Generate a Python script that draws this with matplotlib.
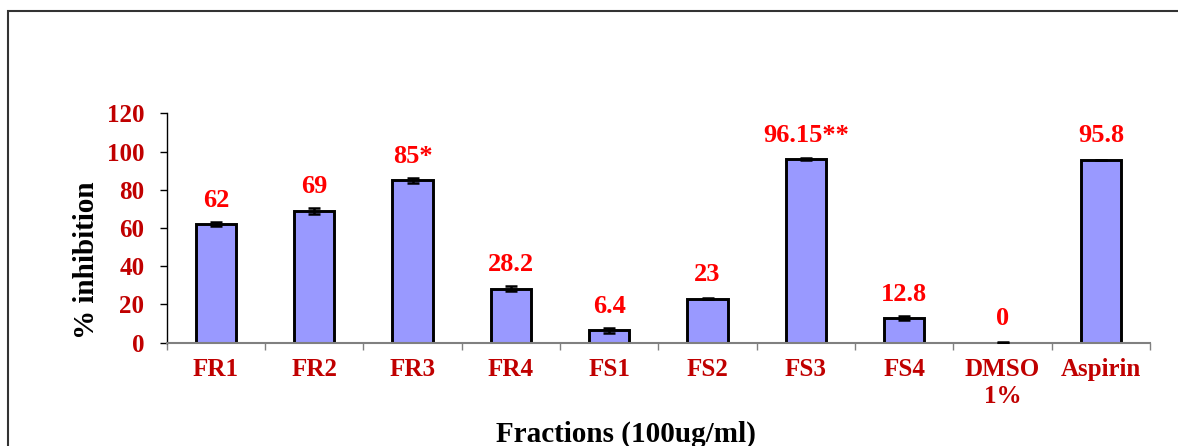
import matplotlib.pyplot as plt
from matplotlib.patches import Rectangle

categories = ['FR1', 'FR2', 'FR3', 'FR4', 'FS1', 'FS2', 'FS3', 'FS4', 'DMSO\n1%', 'Aspirin']
values = [62, 69, 85, 28.2, 6.4, 23, 96.15, 12.8, 0, 95.8]
errors = [1.2, 1.6, 1.2, 1.4, 1.3, 0.4, 0.5, 1.0, 0.4, 0]
value_labels = ['62', '69', '85*', '28.2', '6.4', '23', '96.15**', '12.8', '0', '95.8']
y_ticks = [0, 20, 40, 60, 80, 100, 120]

plt.rcParams['font.family'] = ['Liberation Serif', 'DejaVu Serif']
plt.rcParams['font.weight'] = 'bold'

fig = plt.figure(figsize=(11.78, 4.46), dpi=100)
ax = fig.add_axes([166.7 / 1178, 103.3 / 446, (1150 - 166.7) / 1178, (342.7 - 113.3) / 446])

x = list(range(len(categories)))
ax.bar(x, values, width=0.41, color='#9999FF', edgecolor='black', linewidth=2.1, zorder=2)
ax.errorbar(x, values, yerr=errors, fmt='none', ecolor='black', elinewidth=1.8,
            capsize=4.5, capthick=1.8, zorder=3)

# labels above bars
for xi, v, lab in zip(x, values, value_labels):
    ax.annotate(lab, (xi, v), xytext=(0, 12.5), textcoords='offset points',
                ha='center', va='baseline', color='#FF0000', fontsize=19, fontweight='bold')

ax.set_xlim(-0.5, len(categories) - 0.5)
ax.set_ylim(0, 120)
ax.set_yticks(y_ticks)
ax.set_xticks(x)
ax.set_xticklabels(categories)
ax.set_xticks([i - 0.5 for i in range(len(categories) + 1)], minor=True)

ax.tick_params(axis='x', which='major', length=0, pad=11, labelsize=18, labelcolor='#C00000')
ax.tick_params(axis='x', which='minor', length=5, width=1, color='#808080', direction='out')
ax.tick_params(axis='y', length=5, width=1, pad=11, labelsize=18, labelcolor='#C00000')
for t in ax.get_xticklabels() + ax.get_yticklabels():
    t.set_fontweight('bold')

ax.spines['top'].set_visible(False)
ax.spines['right'].set_visible(False)
ax.spines['bottom'].set_color('#808080')
ax.spines['bottom'].set_linewidth(1.5)
ax.spines['left'].set_linewidth(1)

fig.text(86 / 1178, (446 - 260) / 446, '% inhibition', rotation=90, ha='center', va='center',
         fontsize=21, fontweight='bold', color='black')
fig.text(626 / 1178, 4 / 446, 'Fractions (100ug/ml)', ha='center', va='baseline',
         fontsize=21, fontweight='bold', color='black')

# outer frame of the chart area
fig.patches.append(Rectangle((8 / 1178, -0.2), 2, (446 - 11) / 446 + 0.2, transform=fig.transFigure,
                             fill=False, edgecolor='#333333', linewidth=1.5))

fig.savefig('out.png', dpi=100)
